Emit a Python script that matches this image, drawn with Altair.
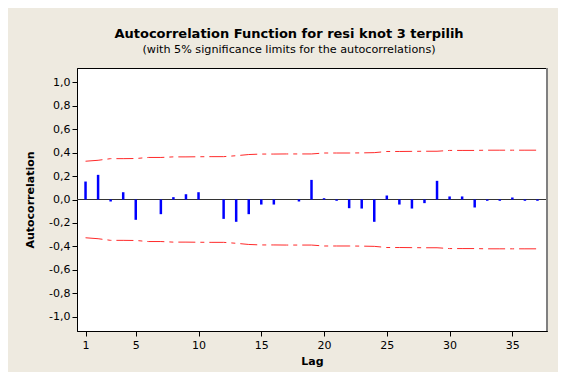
import altair as alt
import pandas as pd

lags = list(range(1, 38))
acf = [0.153, 0.21, -0.017, 0.062, -0.173, 0.0, -0.125, 0.02, 0.045, 0.062,
       0.0, -0.165, -0.19, -0.125, -0.043, -0.043, 0.0, -0.017, 0.167, 0.011,
       -0.011, -0.074, -0.077, -0.19, 0.034, -0.043, -0.077, -0.031, 0.159, 0.026,
       0.026, -0.068, -0.011, -0.011, 0.017, -0.011, -0.011]
upper_limit = [0.326, 0.334, 0.348, 0.348, 0.349, 0.358, 0.358, 0.363, 0.363, 0.364,
               0.365, 0.365, 0.373, 0.383, 0.387, 0.387, 0.388, 0.388, 0.388, 0.396,
               0.396, 0.396, 0.397, 0.399, 0.409, 0.409, 0.410, 0.411, 0.411, 0.418,
               0.418, 0.418, 0.420, 0.420, 0.420, 0.420, 0.420]
x_ticks = [1, 5, 10, 15, 20, 25, 30, 35]
y_ticks = [-1.0, -0.8, -0.6, -0.4, -0.2, 0.0, 0.2, 0.4, 0.6, 0.8, 1.0]

df = pd.DataFrame({"lag": lags, "acf": acf, "up": upper_limit,
                   "lo": [-v for v in upper_limit]})

FONT = "DejaVu Sans"
W, H = 470, 263

xscale = alt.Scale(domain=[0.32, 37.76], nice=False, zero=False)
yscale = alt.Scale(domain=[-1.12, 1.12], nice=False)

label_expr = "(datum.value < -0.0001 ? '-' : '') + replace(format(abs(datum.value), '.1f'), '.', ',')"

base = alt.Chart(df)

bars = base.mark_rule(color="#0000ff", strokeWidth=2.5).encode(
    x=alt.X("lag:Q", scale=xscale,
            axis=alt.Axis(title="Lag", values=x_ticks, tickCount=20, format="d", grid=False,
                          tickSize=5, labelPadding=3, titlePadding=5, labelOverlap=False,
                          labelFontSize=11, titleFontSize=11, titleFontWeight="bold",
                          labelFont=FONT, titleFont=FONT, labelColor="black",
                          titleColor="black", domainColor="black", tickColor="black")),
    y=alt.Y("acf:Q", scale=yscale,
            axis=alt.Axis(title="Autocorrelation", values=y_ticks, tickCount=20,
                          labelExpr=label_expr,
                          grid=False, tickSize=5, labelPadding=2, titlePadding=13,
                          labelOverlap=False,
                          labelFontSize=11, titleFontSize=11, titleFontWeight="bold",
                          labelFont=FONT, titleFont=FONT, labelColor="black",
                          titleColor="black", domainColor="black", tickColor="black")),
    y2=alt.datum(0),
)

zero = alt.Chart(df).mark_rule(color="#333333", strokeWidth=1).encode(y=alt.datum(0, scale=yscale))

upper = base.mark_line(color="#ff2a2a", strokeWidth=1, strokeDash=[17, 5, 4, 5]).encode(
    x=alt.X("lag:Q", scale=xscale), y=alt.Y("up:Q", scale=yscale))
lower = base.mark_line(color="#ff2a2a", strokeWidth=1, strokeDash=[17, 5, 4, 5]).encode(
    x=alt.X("lag:Q", scale=xscale), y=alt.Y("lo:Q", scale=yscale))

right_edge = alt.Chart(df).mark_rule(color="#808080", strokeWidth=2).encode(
    x=alt.value(W), y=alt.value(0), y2=alt.value(H))

chart = alt.layer(zero, upper, lower, bars, right_edge).properties(
    width=W, height=H,
    autosize=alt.AutoSizeParams(type="none"),
    padding={"left": 69, "top": 60, "right": 11, "bottom": 41},
    background="#eeeae0",
    title=alt.TitleParams(
        text="Autocorrelation Function for resi knot 3 terpilih",
        subtitle="(with 5% significance limits for the autocorrelations)",
        font=FONT, fontSize=13, fontWeight="bold", color="black",
        subtitleFont=FONT, subtitleFontSize=11.2, subtitleColor="black",
        subtitlePadding=3, anchor="middle", dx=-23, offset=12),
).configure_view(stroke="black", strokeWidth=1, fill="white")

chart.save("out.html", embed_options={"renderer": "svg", "actions": False})
